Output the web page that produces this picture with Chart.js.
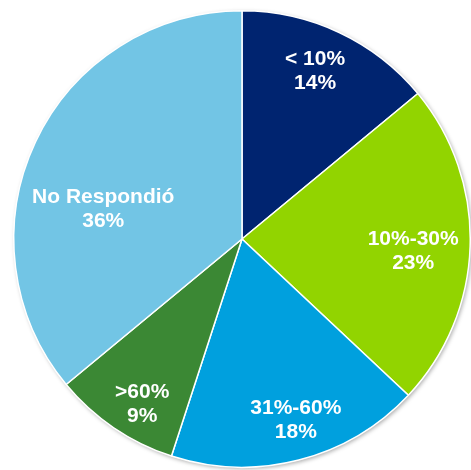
<!DOCTYPE html>
<html>
<head>
<meta charset="utf-8">
<script src="https://cdn.jsdelivr.net/npm/chart.js@4"></script>
<style>
  html, body { margin: 0; padding: 0; background: #fff; }
  canvas { display: block; }
</style>
</head>
<body>
<canvas id="pie" width="471" height="470"></canvas>
<script>
const categories = ['< 10%', '10%-30%', '31%-60%', '>60%', 'No Respondió'];
const shares = [14, 23, 18, 9, 36];
const sliceColors = ['#002470', '#92D400', '#00A0DE', '#3B8834', '#72C5E5'];
// label block centre relative to pie centre, in units of radius
const labelSpots = [[0.32, -0.735], [0.75, 0.052], [0.236, 0.795], [-0.437, 0.723], [-0.608, -0.13]];

const pieShadow = {
  id: 'pieShadow',
  beforeDatasetsDraw(chart) {
    const arc = chart.getDatasetMeta(0).data[0];
    if (!arc) return;
    const ctx = chart.ctx;
    ctx.save();
    ctx.shadowColor = 'rgba(0,0,0,0.35)';
    ctx.shadowBlur = 4;
    ctx.shadowOffsetX = 1.5;
    ctx.shadowOffsetY = 1.5;
    ctx.fillStyle = '#fff';
    ctx.beginPath();
    ctx.arc(arc.x, arc.y, arc.outerRadius, 0, Math.PI * 2);
    ctx.fill();
    ctx.restore();
  }
};

const sliceLabels = {
  id: 'sliceLabels',
  afterDatasetsDraw(chart) {
    const ctx = chart.ctx;
    const arcs = chart.getDatasetMeta(0).data;
    ctx.save();
    ctx.fillStyle = '#fff';
    ctx.font = 'bold 21px "Liberation Sans", Arial, sans-serif';
    ctx.textAlign = 'center';
    ctx.textBaseline = 'middle';
    arcs.forEach((arc, i) => {
      const x = arc.x + labelSpots[i][0] * arc.outerRadius;
      const y = arc.y + labelSpots[i][1] * arc.outerRadius;
      ctx.fillText(categories[i], x, y - 12);
      ctx.fillText(shares[i] + '%', x, y + 12);
    });
    ctx.restore();
  }
};

new Chart(document.getElementById('pie'), {
  type: 'pie',
  data: {
    labels: categories,
    datasets: [{
      data: shares,
      backgroundColor: sliceColors,
      borderColor: '#fff',
      borderWidth: 1.5
    }]
  },
  options: {
    responsive: false,
    animation: false,
    layout: { padding: { left: 13, right: 0, top: 10, bottom: 2 } },
    plugins: { legend: { display: false }, tooltip: { enabled: false } }
  },
  plugins: [pieShadow, sliceLabels]
});
</script>
</body>
</html>
